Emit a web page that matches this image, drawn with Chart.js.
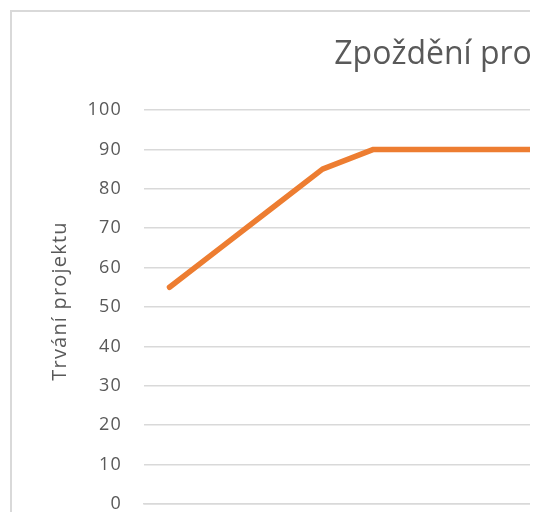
<!DOCTYPE html>
<html>
<head>
<meta charset="utf-8">
<script src="https://cdn.jsdelivr.net/npm/chart.js@4"></script>
<style>
  html, body { margin: 0; padding: 0; background: #ffffff; }
  #clip { position: absolute; left: 0; top: 0; width: 530px; height: 512px; overflow: hidden; background: #fff; }
  #frame { position: absolute; left: 10px; top: 10px; border: 2px solid #d9d9d9; background: #fff; }
  canvas { display: block; }
</style>
</head>
<body>
<div id="clip">
  <div id="frame">
    <canvas id="c" width="912" height="580"></canvas>
  </div>
</div>
<script>
// Data read from the (cropped) reference
const chartTitle = "Zpoždění projektu";
const yAxisTitle = "Trvání projektu";
const categories = ["1","2","3","4","5","6","7","8","9","10","11","12","13","14","15"];
const durationValues = [55, 65, 75, 85, 90, 90, 90, 90, 90];
const yTicks = [0, 10, 20, 30, 40, 50, 60, 70, 80, 90, 100];

const textColor = "#595959";
const gridColor = "#d9d9d9";

const spacingPlugin = {
  id: "spacing",
  beforeDraw(chart) { chart.ctx.letterSpacing = "1.2px"; },
  afterLayout(chart) {
    const tb = chart.titleBlock;
    if (tb && !tb._wrapped) {
      const orig = tb.draw.bind(tb);
      tb.draw = function (area) {
        const c = chart.ctx;
        const prev = c.letterSpacing;
        c.letterSpacing = "0px";
        orig(area);
        c.letterSpacing = prev;
      };
      tb._wrapped = true;
    }
    const ys = chart.scales.y;
    if (ys && !ys._wrapped) {
      const origT = ys.drawTitle.bind(ys);
      ys.drawTitle = function () {
        const c = chart.ctx;
        c.save();
        c.translate(0, -6);
        origT();
        c.restore();
      };
      ys._wrapped = true;
    }
  }
};

new Chart(document.getElementById("c"), {
  type: "line",
  data: {
    labels: categories,
    datasets: [{
      label: yAxisTitle,
      data: durationValues,
      borderColor: "#ED7D31",
      backgroundColor: "#ED7D31",
      borderWidth: 5.5,
      borderCapStyle: "round",
      borderJoinStyle: "round",
      pointRadius: 0,
      tension: 0,
      fill: false
    }]
  },
  plugins: [spacingPlugin],
  options: {
    responsive: false,
    animation: false,
    devicePixelRatio: 1,
    layout: { padding: { left: 19, right: 15, top: 0, bottom: 28 } },
    plugins: {
      legend: { display: false },
      tooltip: { enabled: false },
      title: {
        display: true,
        text: chartTitle,
        color: textColor,
        font: { family: "'Open Sans'", size: 32, weight: "normal" },
        padding: { top: 24, bottom: 35.6 }
      }
    },
    scales: {
      x: {
        type: "category",
        offset: true,
        grid: { display: false, drawTicks: false },
        border: { display: true, color: gridColor, width: 1.5 },
        ticks: { color: textColor, font: { family: "'Open Sans'", size: 18 }, padding: 16, maxRotation: 0, autoSkip: false },
        afterFit: (s) => { s.height = 60; }
      },
      y: {
        min: 0,
        max: 100,
        afterBuildTicks: (s) => { s.ticks = yTicks.map(v => ({ value: v })); },
        grid: { color: gridColor, lineWidth: 1.5, drawTicks: false },
        border: { display: false },
        ticks: { color: textColor, font: { family: "'Open Sans'", size: 18 }, padding: 22 },
        title: {
          display: true,
          text: yAxisTitle,
          color: textColor,
          font: { family: "'Open Sans'", size: 20, weight: "normal" },
          padding: { top: 17, bottom: 0 }
        },
        afterFit: (s) => { s.width = 113; }
      }
    }
  }
});
</script>
</body>
</html>
